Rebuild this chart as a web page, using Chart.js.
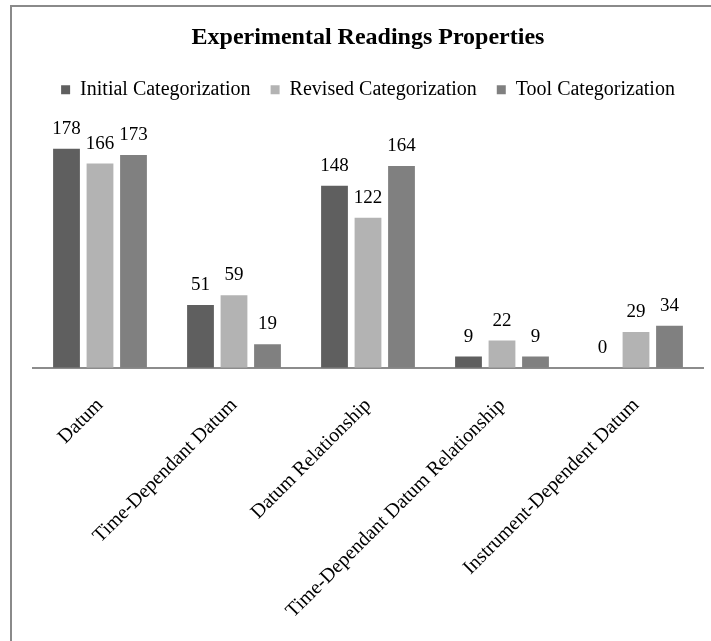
<!DOCTYPE html>
<html>
<head>
<meta charset="utf-8">
<script src="https://cdn.jsdelivr.net/npm/chart.js@4/dist/chart.umd.min.js"></script>
<style>
    html, body { margin: 0; padding: 0; background: #ffffff; }
    #wrap { position: relative; width: 711px; height: 641px; overflow: hidden; }
    #frame {
        position: absolute; left: 10px; top: 5px; width: 760px; height: 700px;
        border-left: 2px solid #8a8a8a; border-top: 2px solid #8a8a8a;
    }
    #PropChart { position: absolute; left: 0; top: 0; }
</style>
</head>
<body>
<div id="wrap">
    <div id="frame"></div>
    <canvas id="PropChart" width="711" height="641"></canvas>
</div>
<script>
// Categories and counts per categorization
var categories = ['Datum', 'Time-Dependant Datum', 'Datum Relationship',
    'Time-Dependant Datum Relationship', 'Instrument-Dependent Datum'];
var initialCounts = [178, 51, 148, 9, 0];
var revisedCounts = [166, 59, 122, 22, 29];
var toolCounts = [173, 19, 164, 9, 34];

var serif = "'Liberation Serif', 'Times New Roman', serif";

// Writes the count above each bar
var barValues = {
    id: 'barValues',
    afterDatasetsDraw: function(chart) {
        var ctx = chart.ctx;
        ctx.save();
        ctx.font = '19px ' + serif;
        ctx.fillStyle = '#000000';
        ctx.textAlign = 'center';
        ctx.textBaseline = 'alphabetic';
        chart.data.datasets.forEach(function(ds, i) {
            chart.getDatasetMeta(i).data.forEach(function(bar, j) {
                ctx.fillText(String(ds.data[j]), bar.x, bar.y - 15);
            });
        });
        ctx.restore();
    }
};

// Extra room between the legend and the bars
var legendSpace = {
    id: 'legendSpace',
    beforeInit: function(chart) {
        var fit = chart.legend.fit;
        chart.legend.fit = function() {
            fit.bind(chart.legend)();
            this.height += 12;
        };
    }
};

var ctx = document.getElementById('PropChart').getContext('2d');
var PropChart = new Chart(ctx, {
    type: 'bar',
    data: {
        labels: categories,
        datasets: [
            { label: 'Initial Categorization', backgroundColor: '#5f5f5f', data: initialCounts },
            { label: 'Revised Categorization', backgroundColor: '#b3b3b3', data: revisedCounts },
            { label: 'Tool Categorization', backgroundColor: '#808080', data: toolCounts }
        ]
    },
    options: {
        responsive: false,
        animation: false,
        events: [],
        categoryPercentage: 0.75,
        barPercentage: 0.8,
        layout: { padding: { left: 33, right: 8, top: 15, bottom: 0 } },
        scales: {
            x: {
                grid: { display: false },
                border: { display: true, color: '#8c8c8c', width: 2 },
                ticks: {
                    color: '#000000',
                    font: { family: serif, size: 20 },
                    minRotation: 45,
                    maxRotation: 45,
                    autoSkip: false,
                    padding: 18
                }
            },
            y: {
                display: false,
                min: 0,
                max: 200
            }
        },
        plugins: {
            title: {
                display: true,
                text: 'Experimental Readings Properties',
                color: '#000000',
                font: { family: serif, size: 24, weight: 'bold' },
                padding: { top: 8, bottom: 8 }
            },
            legend: {
                position: 'top',
                labels: {
                    color: '#000000',
                    font: { family: serif, size: 20 },
                    boxWidth: 9,
                    boxHeight: 9,
                    padding: 20
                }
            },
            tooltip: { enabled: false }
        }
    },
    plugins: [barValues, legendSpace]
});
</script>
</body>
</html>
